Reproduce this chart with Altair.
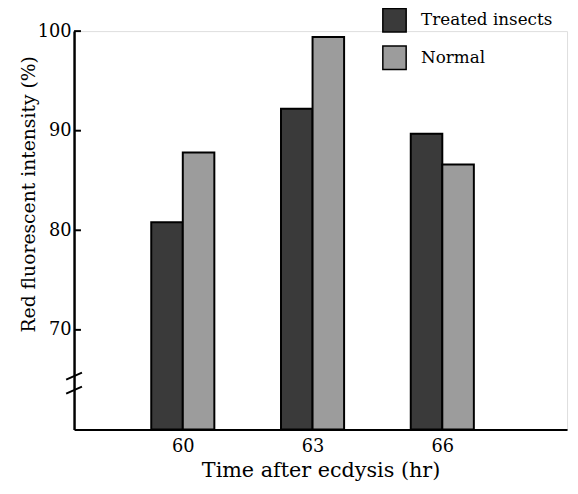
import altair as alt
import pandas as pd

hours = [60, 63, 66]
treated = [80.8, 92.2, 89.7]
normal = [87.8, 99.4, 86.6]
groups = ["Treated insects", "Normal"]
y_ticks = [70, 80, 90, 100]
break_lo = [65.0, 63.6]
break_hi = [65.7, 64.3]

FONT = "DejaVu Serif"

rows = []
for h, t, n in zip(hours, treated, normal):
    rows.append({"hour": h, "group": groups[0], "value": t, "base": 60})
    rows.append({"hour": h, "group": groups[1], "value": n, "base": 60})
df = pd.DataFrame(rows)

xscale = alt.Scale(domain=[57.6, 68.77], nice=False, zero=False)
yscale = alt.Scale(domain=[60, 100], nice=False, zero=False)
color = alt.Color(
    "group:N",
    scale=alt.Scale(domain=groups, range=["#3a3a3a", "#9c9c9c"]),
    legend=alt.Legend(
        title=None, orient="none", legendX=312, legendY=-24,
        symbolType="square", symbolSize=560, symbolStrokeColor="black",
        symbolStrokeWidth=1.5, symbolOpacity=1,
        labelFont=FONT, labelFontSize=17, labelColor="black",
        labelOffset=14, rowPadding=8, padding=0,
    ),
)

xaxis = alt.Axis(
    values=hours, grid=False, ticks=False, domainColor="black", domainWidth=2,
    labelFont=FONT, labelFontSize=18, labelColor="black", labelPadding=8,
    title="Time after ecdysis (hr)", titleFont=FONT, titleFontSize=21,
    titleFontWeight="normal", titleColor="black", titlePadding=5,
)
yaxis = alt.Axis(
    values=y_ticks, grid=False, ticks=False, domainColor="black", domainWidth=2.5,
    labelFont=FONT, labelFontSize=18, labelColor="black", labelPadding=3,
    title="Red fluorescent intensity (%)", titleFont=FONT, titleFontSize=19,
    titleFontWeight="normal", titleColor="black", titleX=-36, titleY=165,
)

base = alt.Chart(df)

def bars(grp, off, with_axes):
    return base.transform_filter(alt.datum.group == grp).mark_bar(
        size=32, xOffset=off, stroke="black", strokeWidth=2, opacity=1
    ).encode(
        x=alt.X("hour:Q", scale=xscale, axis=xaxis if with_axes else alt.Axis(values=hours)),
        y=alt.Y("value:Q", scale=yscale, axis=yaxis if with_axes else alt.Axis(values=y_ticks)),
        y2="base:Q",
        color=color,
    )

tick_df = pd.DataFrame({"v": y_ticks})
ticks = alt.Chart(tick_df).mark_rule(color="black", strokeWidth=2).encode(
    y=alt.Y("v:Q", scale=yscale), x=alt.value(0), x2=alt.value(7)
)

brk_df = pd.DataFrame({"lo": break_lo, "hi": break_hi})
breaks = alt.Chart(brk_df).mark_rule(color="black", strokeWidth=2).encode(
    y=alt.Y("lo:Q", scale=yscale), y2="hi:Q", x=alt.value(-8), x2=alt.value(8)
)

chart = alt.layer(
    bars(groups[0], -16, True), bars(groups[1], 16, False), ticks, breaks
).resolve_axis(y="shared", x="shared").properties(
    width=500, height=404,
    autosize=alt.AutoSizeParams(type="none"),
    padding={"left": 67, "top": 20, "right": 3, "bottom": 60},
).configure_view(stroke=None).configure(background="white")

chart.save("out.html", embed_options={"renderer": "svg", "actions": False})
